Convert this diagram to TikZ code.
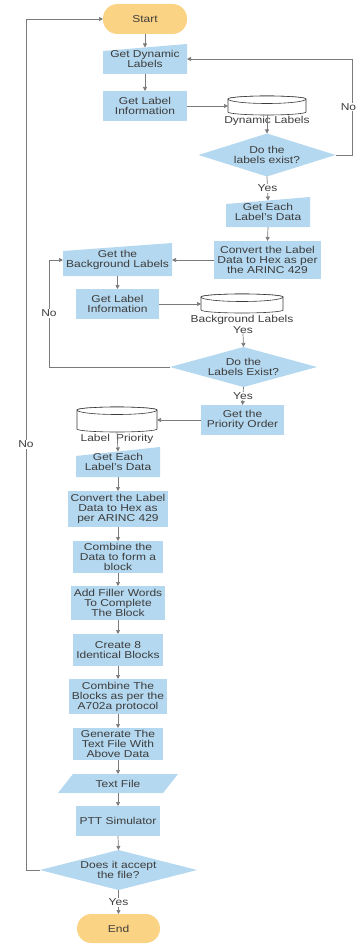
\documentclass[tikz,border=0pt]{standalone}
\usepackage{fontspec}
\setmainfont{Liberation Sans}[FakeStretch=1.2]
\usetikzlibrary{arrows.meta}
\definecolor{boxblue}{HTML}{B4D8EF}
\definecolor{termor}{HTML}{FBD384}
\definecolor{txt}{HTML}{3C3C3C}
\definecolor{ln}{HTML}{7A7A7A}
\definecolor{cyld}{HTML}{3A3A3A}
\newcommand\mycyl[5]{%
  \node[minimum width=#4pt, minimum height=#5pt] (#1) at (#2,#3) {};
  \pgfmathsetmacro\cxl{#2-#4/2}\pgfmathsetmacro\cxr{#2+#4/2}%
  \pgfmathsetmacro\cyt{#3-#5/2+3}\pgfmathsetmacro\cyb{#3+#5/2-3}%
  \pgfmathsetmacro\crx{#4/2}%
  \filldraw[cylst] (\cxl,\cyt) -- (\cxl,\cyb) arc[start angle=180,end angle=360,x radius=\crx pt,y radius=3pt] -- (\cxr,\cyt) arc[start angle=0,end angle=180,x radius=\crx pt,y radius=3pt] -- cycle;
  \draw[cylst] (#2,\cyt) ellipse[x radius=\crx pt, y radius=3pt];
  \draw[cylst] (\cxl,\cyt) arc[start angle=180,end angle=360,x radius=\crx pt,y radius=4.5pt];
}
\begin{document}
\begin{tikzpicture}[x=1pt,y=-1pt,
  every node/.style={font=\fontsize{10}{10}\selectfont, text=txt, align=center, inner sep=0pt, outer sep=0pt},
  sz/.style 2 args={minimum width=#1pt, minimum height=#2pt},
  proc/.style={rectangle, fill=boxblue},
  term/.style={rectangle, fill=termor, rounded corners=14.5pt},
  manin/.style={path picture={\fill[boxblue] ([yshift=-#1]path picture bounding box.north west) -- (path picture bounding box.north east) -- (path picture bounding box.south east) -- (path picture bounding box.south west) -- cycle;}},
  manin/.default=7pt,
  dec/.style={path picture={\fill[boxblue] (path picture bounding box.north) -- (path picture bounding box.east) -- (path picture bounding box.south) -- (path picture bounding box.west) -- cycle;}},
  para/.style={path picture={\fill[boxblue] (path picture bounding box.south west) -- ([xshift=15pt]path picture bounding box.north west) -- (path picture bounding box.north east) -- ([xshift=-15pt]path picture bounding box.south east) -- cycle;}},
  arr/.style={draw=ln, line width=0.7pt, -{Triangle[length=4pt,width=4pt]}},
  lbl/.style={fill=white, inner sep=1pt},
  cylst/.style={draw=cyld, line width=0.6pt, fill=white}
]
\useasboundingbox (0,0) rectangle (357,944);

% nodes
\node[term, sz={84}{30}] (start) at (145,19) {Start};
\node[manin, sz={84}{30}] (gdl) at (145,59) {Get Dynamic\\Labels};
\node[proc, sz={84}{30}] (gli1) at (145,106) {Get Label\\Information};
\mycyl{cyl1}{267}{105.5}{78}{19}
\node (dl1) at (267,121) {Dynamic Labels};
\node[dec, sz={137}{43}] (d1) at (267,155) {Do the\\labels exist?};
\node[manin, sz={84}{30}] (geld1) at (268,212) {Get Each\\Label's Data};
\node[proc, sz={107}{38}] (conv1) at (267.5,260) {Convert the Label\\Data to Hex as per\\the ARINC 429};
\node[manin=8pt, sz={109}{33}] (gbl) at (117.5,259.5) {Get the\\Background Labels};
\node[proc, sz={83}{30}] (gli2) at (117.5,304) {Get Label\\Information};
\mycyl{cyl2}{242}{303.5}{82}{19}
\node (bl2) at (242,320) {Background Labels};
\node (yes2a) at (243,330) {Yes};
\node[dec, sz={147}{40}] (d2) at (243.5,367) {Do the\\Labels Exist?};
\node[proc, sz={83}{30}] (gpo) at (242.5,420) {Get the\\Priority Order};
\mycyl{cyl3}{117}{419.5}{80}{25}
\node (lp3) at (117,439) {Label\hspace{0.6em}Priority};
\node[manin=9pt, sz={84}{30}] (geld2) at (118,462) {Get Each\\Label's Data};
\node[proc, sz={100}{36}] (conv2) at (118,509) {Convert the Label\\Data to Hex as\\per ARINC 429};
\node[proc, sz={90}{32}] (comb1) at (118,557) {Combine the\\Data to form a\\block};
\node[proc, sz={94}{34}] (filler) at (118,603) {Add Filler Words\\To Complete\\The Block};
\node[proc, sz={90}{32}] (create) at (118,650) {Create 8\\Identical Blocks};
\node[proc, sz={98}{35}] (comb2) at (118,696.5) {Combine The\\Blocks as per the\\A702a protocol};
\node[proc, sz={90}{32}] (gen) at (118,744) {Generate The\\Text File With\\Above Data};
\node[para, sz={120}{19}] (tf) at (118,783.5) {Text File};
\node[proc, sz={84}{30}] (ptt) at (118,821) {PTT Simulator};
\node[dec, sz={157}{40}] (d3) at (118.5,870) {Does it accept\\the file?};
\node[term, sz={83}{29}] (end) at (118.5,928.5) {End};

% connectors
\draw[arr] (start.south) -- ([yshift=-3.5pt]gdl.north);
\draw[arr] (gdl.south) -- (gli1.north);
\draw[arr] (gli1.east) -- (cyl1.west |- gli1.east);
\draw[arr] (cyl1.south) -- (d1.north);
\coordinate (n1a) at (352,155);
\coordinate (n1b) at (352,59);
\draw[arr] (d1.east) -- (n1a) -- (n1b) -- (gdl.east);
\node[lbl] (no1) at (348.5,107) {No};
\draw[arr] (d1.south) -- node[lbl] (yes1) {Yes} ([yshift=-3.5pt]geld1.north);
\draw[arr] (geld1.south) -- (conv1.north);
\draw[arr] (conv1.west) -- (gbl.east |- conv1.west);
\draw[arr] (gbl.south) -- (gli2.north);
\draw[arr] (gli2.east) -- (cyl2.west |- gli2.east);
\draw[arr] (yes2a.south) -- (d2.north);
\coordinate (n2a) at (49,367);
\coordinate (n2b) at (49,260);
\draw[arr] (d2.west) -- (n2a) -- node[lbl] (no2) {No} (n2b) -- (gbl.west |- n2b);
\draw[arr] (d2.south) -- node[lbl] (yes2) {Yes} (gpo.north);
\draw[arr] (gpo.west) -- (cyl3.east |- gpo.west);
\draw[arr] (cyl3.south) -- ([yshift=-4.5pt]geld2.north);
\draw[arr] (geld2.south) -- (conv2.north);
\draw[arr] (conv2.south) -- (comb1.north);
\draw[arr] (comb1.south) -- (filler.north);
\draw[arr] (filler.south) -- (create.north);
\draw[arr] (create.south) -- (comb2.north);
\draw[arr] (comb2.south) -- (gen.north);
\draw[arr] (gen.south) -- (tf.north);
\draw[arr] (tf.south) -- (ptt.north);
\draw[arr] (ptt.south) -- (d3.north);
\draw[arr] (d3.south) -- node[lbl] (yes3) {Yes} (end.north);
\coordinate (n3a) at (26,870);
\coordinate (n3b) at (26,19);
\draw[arr] (d3.west) -- (n3a) -- node[lbl] (no3) {No} (n3b) -- (start.west);
\end{tikzpicture}
\end{document}
